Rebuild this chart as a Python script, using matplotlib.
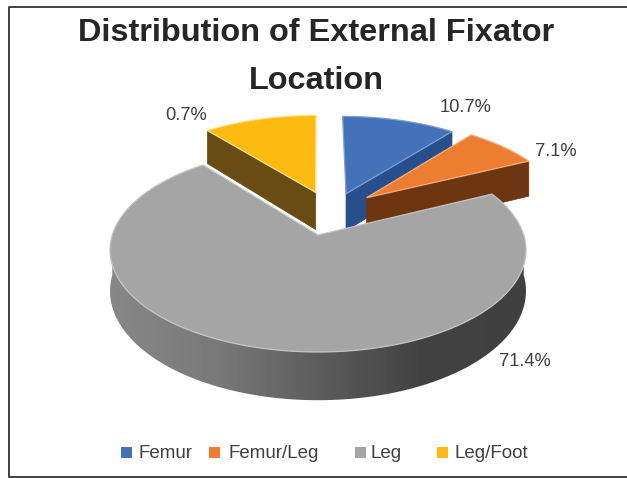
import numpy as np
import matplotlib
matplotlib.use("Agg")
import matplotlib.pyplot as plt
from matplotlib.patches import Rectangle, Polygon

plt.rcParams["font.family"] = ["Liberation Sans", "DejaVu Sans"]

# ---- data ----
categories = ["Femur", "Femur/Leg", "Leg", "Leg/Foot"]
# slice sizes as drawn (the Leg/Foot slice is drawn as big as Femur, labelled 0.7%)
values = [10.7, 7.1, 71.4, 10.7]
value_labels = ["10.7%", "7.1%", "71.4%", "0.7%"]

# ---- styles ----
top_colors = ["#4472b8", "#ed7d31", "#a5a5a5", "#fdbb12"]
edge_colors = ["#7f9fd0", "#f5b080", "#c4c4c4", "#ffe08a"]
side_colors = ["#264f8c", "#6d3510", "#6e6e6e", "#684c14"]
explode = [(0.145, 0.44), (0.25, 0.395), (0.0, 0.0), (-0.012, 0.455)]
label_pos = [(466, 107), (556, 152), (525, 361), (186, 115)]
legend_box_x = [121, 209, 355, 437]
legend_text_x = [138, 228, 371, 454]

# perspective of the pie, in pixels
CX, CY = 318, 235
R, A, C = 205.7, 99.8, 0.147
D0, DC = 40, 0.17


def project(u, v, lower=False):
    w = 1 + C * v
    x = CX + R * u / w
    y = CY - A * v / w
    if lower:
        y = y + D0 / (1 + DC * v)
    return x, y


def slice_outline(a0, a1, off):
    t = np.radians(np.linspace(a0, a1, 200))
    u = np.r_[off[0], off[0] + np.sin(t)]
    v = np.r_[off[1], off[1] + np.cos(t)]
    return project(u, v)


def cut_face(angle, off):
    # flat wall running from the apex out to the rim
    t = np.radians(angle)
    u = np.array([off[0], off[0] + np.sin(t)])
    v = np.array([off[1], off[1] + np.cos(t)])
    xt, yt = project(u, v)
    xb, yb = project(u, v, lower=True)
    return np.r_[xt, xb[::-1]], np.r_[yt, yb[::-1]]


def grey_rim(ax, off):
    # front wall of the big slice, shaded from left to right
    t = np.radians(np.linspace(90, 270, 400))
    u = off[0] + np.sin(t)
    v = off[1] + np.cos(t)
    xt, yt = project(u, v)
    xb, yb = project(u, v, lower=True)
    xs = np.linspace(100, 536, 436)
    shade = np.interp(xs, [110, 220, 320, 420, 526], [0.53, 0.47, 0.36, 0.26, 0.25])
    im = ax.imshow(shade[None, :], extent=[100, 536, 420, 230], aspect="auto",
                   cmap="gray", vmin=0, vmax=1, zorder=3)
    rim = Polygon(np.c_[np.r_[xt, xb[::-1]], np.r_[yt, yb[::-1]]],
                  transform=ax.transData, facecolor="none", edgecolor="none")
    ax.add_patch(rim)
    im.set_clip_path(rim)


fig = plt.figure(figsize=(6.27, 4.78), dpi=100)
ax = fig.add_axes([0, 0, 1, 1])

# chart frame, it runs off the right side of the picture
ax.plot([640, 9, 9, 640], [7, 7, 477, 477], color="#333333", lw=1.3, zorder=1)

# slice angles, clockwise from 12 o'clock
total = sum(values)
stops = np.r_[0, np.cumsum(values)] / total * 360

# back to front: Leg/Foot, Femur, Femur/Leg, Leg
for i in [3, 0, 1, 2]:
    a0, a1 = stops[i], stops[i + 1]
    off = explode[i]
    if i == 2:
        grey_rim(ax, off)
    else:
        wall = a0 if i == 3 else a1
        ax.fill(*cut_face(wall, off), color=side_colors[i], lw=0.5, zorder=3)
    x, y = slice_outline(a0, a1, off)
    ax.fill(x, y, facecolor=top_colors[i], edgecolor=edge_colors[i], lw=0.9, zorder=3)

ax.text(316, 33, "Distribution of External Fixator", ha="center", va="center",
        fontsize=23.4, fontweight="bold", color="#262626")
ax.text(316, 81, "Location", ha="center", va="center",
        fontsize=23.4, fontweight="bold", color="#262626")

for lab, (x, y) in zip(value_labels, label_pos):
    ax.text(x, y, lab, ha="center", va="center", fontsize=13.2, color="#404040")

for name, col, bx, tx in zip(categories, top_colors, legend_box_x, legend_text_x):
    ax.add_patch(Rectangle((bx, 447), 11, 11, facecolor=col, edgecolor="none"))
    ax.text(tx, 453, name, ha="left", va="center", fontsize=13.5, color="#404040")

ax.set_xlim(0, 627)
ax.set_ylim(478, 0)
ax.set_aspect("auto")
ax.axis("off")

fig.savefig("out.png", dpi=100)
